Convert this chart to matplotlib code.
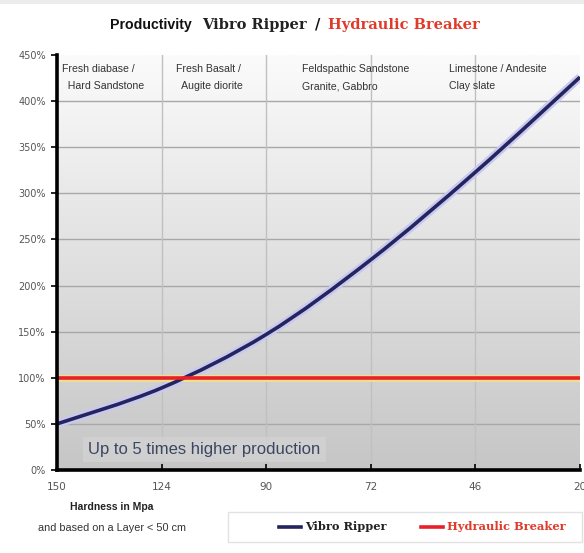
import matplotlib
matplotlib.use("Agg")
import matplotlib.pyplot as plt
import numpy as np
from matplotlib.path import Path
from matplotlib.patches import PathPatch, Rectangle
from matplotlib.lines import Line2D
from matplotlib.colors import LinearSegmentedColormap

# ---- data ----
hardness_labels = ["150", "124", "90", "72", "46", "20"]
vibro_ripper = [0.50, 0.89, 1.47, 2.28, 3.23, 4.26]
hydraulic_breaker = [1.0, 1.0, 1.0, 1.0, 1.0, 1.0]
y_ticks = [0.0, 0.5, 1.0, 1.5, 2.0, 2.5, 3.0, 3.5, 4.0, 4.5]
rock_labels = ["Fresh diabase /\n  Hard Sandstone", "Fresh Basalt /\n  Augite diorite",
               "Feldspathic Sandstone\nGranite, Gabbro", "Limestone / Andesite\nClay slate"]
rock_pos = [0.05, 1.14, 2.34, 3.75]

SANS = ["Liberation Sans", "DejaVu Sans"]
SERIF = ["DejaVu Serif"]

W, H = 584, 553
fig = plt.figure(figsize=(W / 100, H / 100), dpi=100)
fig.patch.set_facecolor("white")
fig.add_artist(Rectangle((0, 1 - 4 / H), 1, 4 / H, transform=fig.transFigure,
                         facecolor="#ececec", edgecolor="none"))

ax = fig.add_axes([57 / W, (H - 470) / H, (580 - 57) / W, (470 - 55) / H])
x = np.arange(len(hardness_labels))
ax.set_xlim(0, len(hardness_labels) - 1)
ax.set_ylim(0, 4.5)

# gradient background
grad = np.linspace(0, 1, 256).reshape(-1, 1)
cmap = LinearSegmentedColormap.from_list("bg", ["#c6c6c6", "#e0e0e0", "#fbfbfb"])
ax.imshow(grad, aspect="auto", cmap=cmap, extent=[0, 5, 0, 4.5], origin="lower", zorder=0)

# grid
for yt in y_ticks[1:-1]:
    ax.axhline(yt, color="#a8a8a8", lw=1.0, zorder=1)
for xt in x[1:-1]:
    ax.axvline(xt, color="#c0c0c0", lw=1.0, zorder=1)

# smooth curve via Catmull-Rom -> Bezier
pts = np.column_stack([x, vibro_ripper]).astype(float)
verts = [tuple(pts[0])]
codes = [Path.MOVETO]
n = len(pts)
for i in range(n - 1):
    p0 = pts[i - 1] if i > 0 else pts[i]
    p1 = pts[i]
    p2 = pts[i + 1]
    p3 = pts[i + 2] if i + 2 < n else pts[i + 1]
    c1 = p1 + (p2 - p0) / 6.0
    c2 = p2 - (p3 - p1) / 6.0
    verts += [tuple(c1), tuple(c2), tuple(p2)]
    codes += [Path.CURVE4] * 3
path = Path(verts, codes)
ax.add_patch(PathPatch(path, facecolor="none", edgecolor="#c8c8f0", lw=6, zorder=2,
                       capstyle="butt"))
ax.add_patch(PathPatch(path, facecolor="none", edgecolor="#24245e", lw=2.6, zorder=3,
                       capstyle="butt"))

ax.plot(x, hydraulic_breaker, color="#f2e08a", lw=5, zorder=2, solid_capstyle="butt")
ax.plot(x, hydraulic_breaker, color="#e8202a", lw=2.6, zorder=4, solid_capstyle="butt")

# axes styling
for s in ["top", "right"]:
    ax.spines[s].set_visible(False)
ax.spines["left"].set_linewidth(2.6)
ax.spines["bottom"].set_linewidth(2.6)
ax.spines["left"].set_zorder(5)
ax.spines["bottom"].set_zorder(5)
ax.set_yticks(y_ticks)
ax.set_yticklabels([f"{int(round(v * 100))}%" for v in y_ticks])
ax.set_xticks(x)
ax.set_xticklabels(hardness_labels)
ax.tick_params(axis="y", direction="out", length=4, width=1.2, color="black",
               labelsize=7, labelcolor="#555555", pad=4)
ax.tick_params(axis="x", direction="in", length=4, width=1.2, color="black",
               labelsize=7.5, labelcolor="#555555", pad=9)

# rock type labels
for lbl, px in zip(rock_labels, rock_pos):
    ax.text(px, 4.40, lbl, family=SANS, fontsize=7.6, color="#333333",
            ha="left", va="top", linespacing=1.9, zorder=6)

# highlight text
ax.text(0.3, 0.22, "Up to 5 times higher production", family=SANS, fontsize=12,
        color="#3b4660", ha="left", va="center", zorder=6,
        bbox=dict(boxstyle="square,pad=0.3", facecolor="#d6d6d6", edgecolor="none", alpha=0.6))

# title
ty = 1 - 29 / H
fig.text(110 / W, ty, "Productivity", family=SANS, fontweight="bold", fontsize=10.2,
         color="#111111", va="baseline")
fig.text(202 / W, ty, "Vibro Ripper", family=SERIF, fontweight="bold", fontsize=10.5,
         color="#222222", va="baseline")
fig.text(315 / W, ty, "/", family=SERIF, fontweight="bold", fontsize=10.5,
         color="#111111", va="baseline")
fig.text(328 / W, ty, "Hydraulic Breaker", family=SERIF, fontweight="bold", fontsize=10.5,
         color="#e03a2a", va="baseline")

# x-axis caption
fig.text(112 / W, 1 - 507 / H, "Hardness in Mpa", family=SANS, fontweight="bold",
         fontsize=7.5, color="#222222", ha="center", va="center")
fig.text(112 / W, 1 - 528 / H, "and based on a Layer < 50 cm", family=SANS,
         fontsize=7.8, color="#333333", ha="center", va="center")

# legend box
fig.add_artist(Rectangle((228 / W, 1 - 542 / H), (582 - 228) / W, 30 / H,
                         transform=fig.transFigure, facecolor="white",
                         edgecolor="#e2e2e2", lw=1.0))
handles = [Line2D([], [], color="#24245e", lw=2.6),
           Line2D([], [], color="#e8202a", lw=2.6)]
leg = fig.legend(handles, ["Vibro Ripper", "Hydraulic Breaker"], loc="center",
                 bbox_to_anchor=(422 / W, 1 - 527 / H), ncol=2, frameon=False,
                 prop=dict(family=SERIF, weight="bold", size=8.2),
                 handlelength=2.0, handletextpad=0.3, columnspacing=3.0)
leg.get_texts()[0].set_color("#222222")
leg.get_texts()[1].set_color("#e03a2a")

fig.savefig("out.png", dpi=100)
